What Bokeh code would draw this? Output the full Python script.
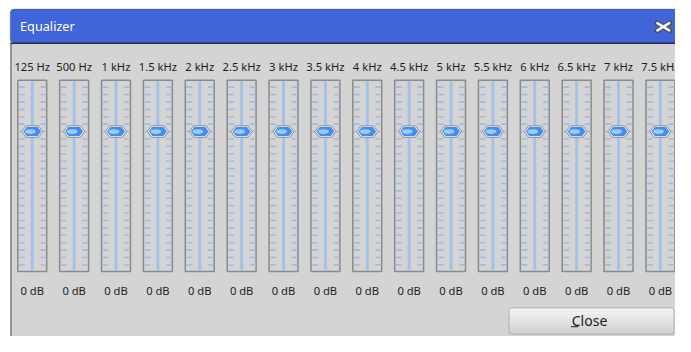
from bokeh.plotting import figure
from bokeh.models import Range1d, ColumnDataSource, BoxAnnotation
from bokeh.core.properties import value
from bokeh.embed import file_html
from bokeh.resources import INLINE

# ---------------- data ----------------
BANDS = ["125 Hz", "500 Hz", "1 kHz", "1.5 kHz", "2 kHz", "2.5 kHz", "3 kHz", "3.5 kHz",
         "4 kHz", "4.5 kHz", "5 kHz", "5.5 kHz", "6 kHz", "6.5 kHz", "7 kHz", "7.5 kHz"]
GAINS_DB = [0, 0, 0, 0, 0, 0, 0, 0, 0, 0, 0, 0, 0, 0, 0, 0]
DB_TICKS = [6, 5, 4, 3, 2, 1, 0, -1, -2, -3, -4, -5, -6, -7, -8, -9, -10, -11, -12,
            -13, -14, -15, -16, -17, -18]
TITLE = "Equalizer"
BUTTON = "Close"

# ---------------- layout (reference pixel space 691 x 352) ----------------
W, H = 675, 336
RW, RH = 691, 352
X0 = 32.5          # pixel centre of first band
STEP = 42.87       # pixels between bands
DB0_Y = 137.3      # pixel row of 0 dB
PX_PER_DB = 7.7625
TY = -4.5          # baseline correction for text
FONT = value("Noto Sans")
TXT = "#1c1c1c"

p = figure(width=W, height=H, x_range=Range1d(0, RW), y_range=Range1d(RH, 0),
           output_backend="svg", toolbar_location=None, min_border=0,
           x_axis_location=None, y_axis_location=None)
p.grid.visible = False
p.outline_line_color = None
p.background_fill_color = "white"
p.border_fill_color = "white"
p.extra_x_ranges = {"band": Range1d((0 - X0) / STEP, (RW - X0) / STEP)}
p.extra_y_ranges = {"db": Range1d((DB0_Y - RH) / PX_PER_DB, (DB0_Y - 0) / PX_PER_DB)}

def bx(px):   # pixel offset -> band units
    return px / STEP

def dy(px):   # pixel offset (downwards) -> dB units
    return -px / PX_PER_DB

# ---------------- window chrome ----------------
p.quad(left=10, right=720, top=45, bottom=380, fill_color="#d4d4d4", line_color=None)
p.segment(x0=10.75, y0=45, x1=10.75, y1=380, line_color="#7e7e7e", line_width=1.5)
p.add_layout(BoxAnnotation(left=10, right=740, top=9, bottom=44.5, fill_color="#4065da",
                           fill_alpha=1, line_color="#4a4a5a", line_width=1, border_radius=4,
                           level="underlay"))
p.segment(x0=10, y0=44.8, x1=720, y1=44.8, line_color="#2c2c3a", line_width=1.6)
p.text(x=[20], y=[31.5 + TY], text=[TITLE], text_font=FONT, text_font_size="12.7px",
       text_color="white", text_align="left", text_baseline="alphabetic")
# close cross
p.segment(x0=[672, 672], y0=[23.5, 31.5], x1=[685, 685], y1=[31.5, 23.5],
          line_color="#505050", line_width=5, line_cap="round")
p.segment(x0=[672.5, 672.5], y0=[23.8, 31.2], x1=[684.5, 684.5], y1=[31.2, 23.8],
          line_color="#f4f4f4", line_width=2.6, line_cap="round")

# ---------------- sliders ----------------
idx = list(range(len(BANDS)))
src = ColumnDataSource(dict(
    i=idx, band=BANDS, gain=GAINS_DB,
    left=[i - bx(14.8) for i in idx], right=[i + bx(14.8) for i in idx],
    hl=[i - bx(2) for i in idx],
    label=[f"{g} dB" for g in GAINS_DB],
))

p.quad(left="left", right="right", top=83.5, bottom=284, source=src, x_range_name="band",
       fill_color=None, line_color="#8a8a8a", line_width=1.5)
p.segment(x0="i", y0=84.5, x1="i", y1=283, source=src, x_range_name="band",
          line_color="#a6c1e8", line_width=3)

tx0, tx1, ty = [], [], []
for i in idx:
    for t in DB_TICKS:
        tx0 += [i - bx(13.6), i + bx(8.4)]
        tx1 += [i - bx(7.6), i + bx(14.4)]
        ty += [t, t]
p.segment(x0=tx0, y0=ty, x1=tx1, y1=ty, x_range_name="band", y_range_name="db",
          line_color="#9dbbe6", line_width=1.6)

# handles (hexagon knobs placed at the gain value)
hx, hy, ix, iy = [], [], [], []
for i, g in zip(idx, GAINS_DB):
    hx.append([i + bx(v) for v in (-10.8, -6.5, 6.5, 10.8, 6.5, -6.5)])
    hy.append([g + dy(v) for v in (0, -6, -6, 0, 6, 6)])
    ix.append([i + bx(v) for v in (-9.2, -5.6, 5.6, 9.2, 5.6, -5.6)])
    iy.append([g + dy(v) for v in (0, -4.7, -4.7, 0, 4.7, 4.7)])
p.patches(xs=hx, ys=hy, x_range_name="band", y_range_name="db",
          fill_color="#eeeeee", line_color="#8c8c8c", line_width=1)
p.patches(xs=ix, ys=iy, x_range_name="band", y_range_name="db",
          fill_color="#3f8ef4", line_color=None)
p.ellipse(x="hl", y="gain", width=bx(11), height=5.0 / PX_PER_DB,
          source=src, x_range_name="band", y_range_name="db",
          fill_color="#a9d2fb", line_color=None, fill_alpha=0.9)

# labels
p.text(x="i", y=74 + TY, text="band", source=src, x_range_name="band",
       text_font=FONT, text_font_size="11.2px", text_color=TXT,
       text_align="center", text_baseline="alphabetic")
p.text(x="i", y=308.3 + TY, text="label", source=src, x_range_name="band",
       text_font=FONT, text_font_size="11.2px", text_color=TXT,
       text_align="center", text_baseline="alphabetic")

# ---------------- Close button ----------------
shades = ["#f3f3f3", "#efefef", "#ebebeb", "#e7e7e7", "#e3e3e3", "#dedede", "#dadada", "#d6d6d6", "#d2d2d2"]
top, bot = 322.5, 349.5
hstep = (bot - top) / len(shades)
p.quad(left=521, right=689, top=[top + k * hstep for k in range(len(shades))],
       bottom=[top + (k + 1) * hstep for k in range(len(shades))],
       fill_color=shades, line_color=None)
p.add_layout(BoxAnnotation(left=520.5, right=689.5, top=322, bottom=349.5, fill_alpha=0,
                           line_color="#707070", line_width=1.2, border_radius=3))
p.text(x=[603], y=[339.3 + TY], text=[BUTTON], text_font=FONT, text_font_size="14px",
       text_color=TXT, text_align="center", text_baseline="alphabetic")
p.segment(x0=584, y0=341.8, x1=591.5, y1=341.8, line_color=TXT, line_width=1)

open("out.html", "w").write(file_html(p, INLINE))
